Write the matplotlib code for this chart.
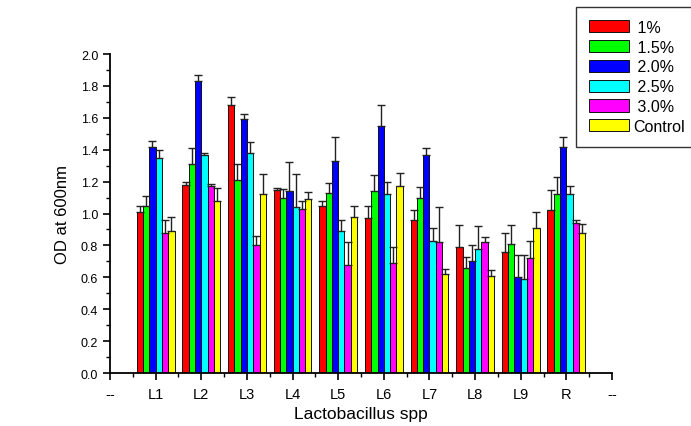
import matplotlib

matplotlib.use("Agg")
import matplotlib.pyplot as plt
import numpy as np
from matplotlib.ticker import MultipleLocator, FormatStrFormatter

plt.rcParams.update({
    "font.family": ["Liberation Sans", "DejaVu Sans"],
    "font.size": 9,
})

# ── data ────────────────────────────────────────────────────────────────────
strains = ["L1", "L2", "L3", "L4", "L5", "L6", "L7", "L8", "L9", "R"]
tick_labels = ["--"] + strains + ["--"]
series = ["1%", "1.5%", "2.0%", "2.5%", "3.0%", "Control"]
colors = ["#FF0000", "#00FF00", "#0000FF", "#00FFFF", "#FF00FF", "#FFFF00"]

od_1 = [1.01, 1.18, 1.68, 1.15, 1.05, 0.97, 0.96, 0.79, 0.76, 1.02]
od_15 = [1.05, 1.31, 1.21, 1.10, 1.13, 1.14, 1.10, 0.66, 0.81, 1.12]
od_20 = [1.42, 1.83, 1.59, 1.14, 1.33, 1.55, 1.37, 0.70, 0.60, 1.42]
od_25 = [1.35, 1.37, 1.38, 1.04, 0.89, 1.12, 0.83, 0.78, 0.59, 1.12]
od_30 = [0.88, 1.17, 0.80, 1.03, 0.68, 0.69, 0.82, 0.82, 0.72, 0.94]
od_ctrl = [0.89, 1.08, 1.12, 1.09, 0.98, 1.17, 0.62, 0.61, 0.91, 0.88]

err_1 = [0.04, 0.02, 0.05, 0.012, 0.03, 0.08, 0.06, 0.14, 0.12, 0.13]
err_15 = [0.06, 0.10, 0.10, 0.055, 0.06, 0.10, 0.065, 0.07, 0.12, 0.11]
err_20 = [0.035, 0.04, 0.035, 0.18, 0.15, 0.13, 0.04, 0.10, 0.14, 0.06]
err_25 = [0.05, 0.01, 0.07, 0.21, 0.07, 0.08, 0.08, 0.14, 0.15, 0.05]
err_30 = [0.08, 0.015, 0.06, 0.05, 0.14, 0.10, 0.22, 0.03, 0.105, 0.017]
err_ctrl = [0.09, 0.08, 0.13, 0.046, 0.07, 0.083, 0.033, 0.035, 0.10, 0.056]

values = [od_1, od_15, od_20, od_25, od_30, od_ctrl]
errors = [err_1, err_15, err_20, err_25, err_30, err_ctrl]

fig = plt.figure(figsize=(6.91, 4.27), dpi=100)
ax = fig.add_axes([0.1592, 0.1241, 0.7265, 0.747])

x = np.arange(1, len(strains) + 1)
width = 0.138
handles = []
for i, (lab, col, vals, errs) in enumerate(zip(series, colors, values, errors)):
    pos = x + (i - 2.5) * width
    b = ax.bar(pos, vals, width, color=col, edgecolor="#111111", lw=0.7,
               label=" " + lab if lab != "Control" else lab, zorder=2)
    handles.append(b)
    ax.errorbar(pos, vals, yerr=[np.zeros(len(errs)), errs], fmt="none",
                ecolor="#222222", elinewidth=1.0, capsize=3, capthick=1.0, zorder=3)

ax.set_xlim(0, 11)
ax.set_ylim(0, 2.0)
ax.set_xticks(np.arange(0, 12))
ax.set_xticklabels(tick_labels)
ax.xaxis.set_minor_locator(MultipleLocator(0.5))
ax.yaxis.set_major_locator(MultipleLocator(0.2))
ax.yaxis.set_minor_locator(MultipleLocator(0.1))
ax.yaxis.set_major_formatter(FormatStrFormatter("%.1f"))

for side in ("top", "right"):
    ax.spines[side].set_visible(False)
for side in ("left", "bottom"):
    ax.spines[side].set_linewidth(1.3)
ax.tick_params(which="major", direction="out", length=5, width=1.2)
ax.tick_params(which="minor", direction="out", length=3, width=1.0)
ax.tick_params(axis="x", labelsize=10.5, pad=5)
ax.tick_params(axis="y", labelsize=9)

ax.set_xlabel("Lactobacillus spp", fontsize=12.5, labelpad=4)
ax.set_ylabel("OD at 600nm", fontsize=12, labelpad=8)

leg = fig.legend(handles=handles, loc="upper left", bbox_to_anchor=(0.834, 0.981),
                 fontsize=11.5, frameon=True, fancybox=False, handlelength=2.5,
                 handleheight=0.8, handletextpad=0.25, labelspacing=0.3,
                 borderpad=0.8, borderaxespad=0)
leg.get_frame().set_edgecolor("black")
leg.get_frame().set_linewidth(1.0)

fig.savefig("out.png", dpi=100)
